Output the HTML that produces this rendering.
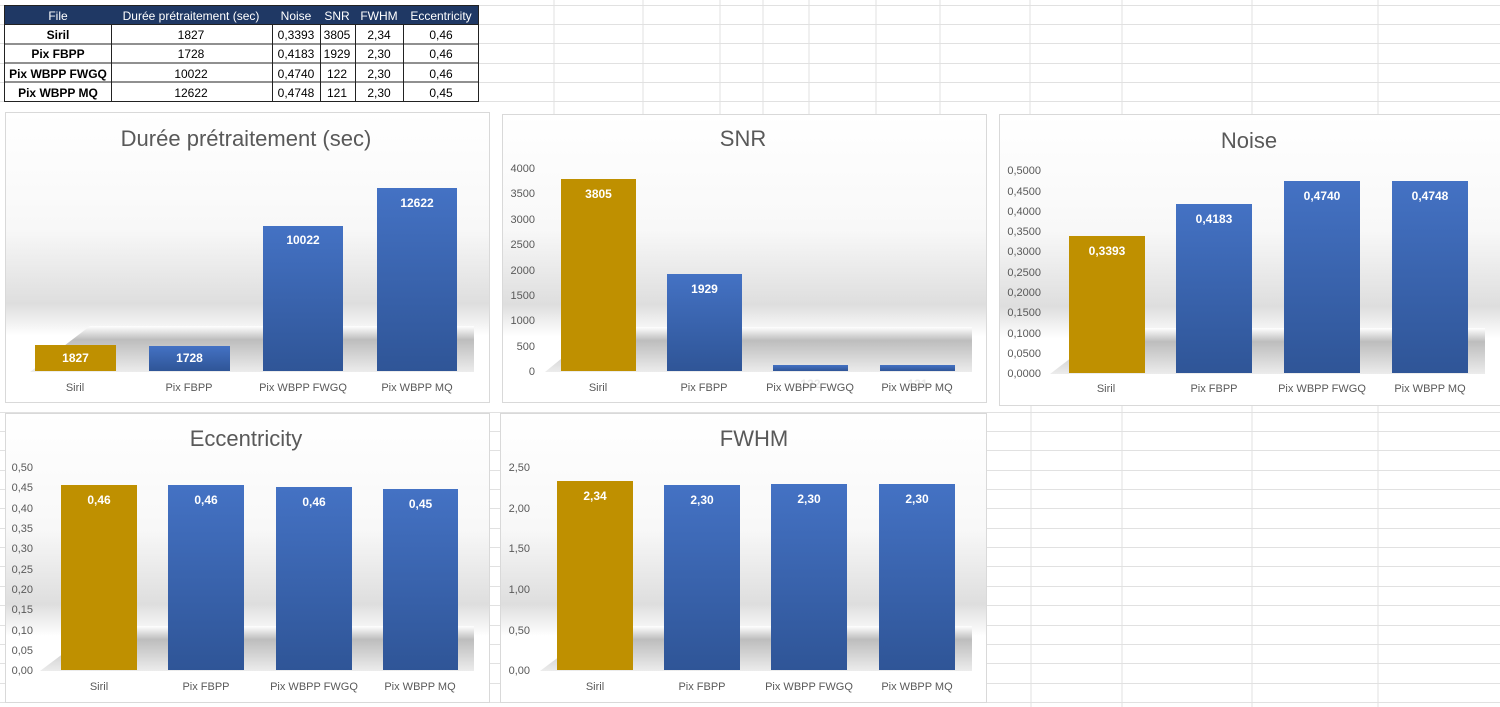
<!DOCTYPE html>
<html><head><meta charset="utf-8"><style>
html,body{margin:0;padding:0;background:#fff;}
svg{display:block;font-family:"Liberation Sans",sans-serif;}
</style></head><body>
<svg width="1500" height="707" viewBox="0 0 1500 707" xmlns="http://www.w3.org/2000/svg">
<defs>
<linearGradient id="blue" x1="0" y1="0" x2="0" y2="1"><stop offset="0" stop-color="#4472c4"/><stop offset="1" stop-color="#2f5597"/></linearGradient>
<linearGradient id="bg" x1="0" y1="0" x2="0" y2="1">
<stop offset="0" stop-color="#ffffff"/><stop offset="0.4" stop-color="#f8f8f8"/><stop offset="0.66" stop-color="#dedede"/><stop offset="0.73" stop-color="#f3f3f3"/><stop offset="0.77" stop-color="#ffffff"/><stop offset="1" stop-color="#ffffff"/></linearGradient>
<linearGradient id="floor" x1="0" y1="0" x2="0" y2="1"><stop offset="0" stop-color="#ffffff"/><stop offset="0.3" stop-color="#bdbdbd"/><stop offset="1" stop-color="#ececec"/></linearGradient>
</defs>
<g stroke="#e1e1e1" stroke-width="1">
<line x1="0" y1="5.5" x2="1500" y2="5.5"/><line x1="0" y1="24.5" x2="1500" y2="24.5"/><line x1="0" y1="43.5" x2="1500" y2="43.5"/><line x1="0" y1="63.5" x2="1500" y2="63.5"/><line x1="0" y1="82.5" x2="1500" y2="82.5"/><line x1="0" y1="101.5" x2="1500" y2="101.5"/>
<line x1="0" y1="412.5" x2="1500" y2="412.5"/><line x1="0" y1="431.5" x2="1500" y2="431.5"/><line x1="0" y1="450.5" x2="1500" y2="450.5"/><line x1="0" y1="470.5" x2="1500" y2="470.5"/><line x1="0" y1="489.5" x2="1500" y2="489.5"/><line x1="0" y1="508.5" x2="1500" y2="508.5"/><line x1="0" y1="528.5" x2="1500" y2="528.5"/><line x1="0" y1="547.5" x2="1500" y2="547.5"/><line x1="0" y1="566.5" x2="1500" y2="566.5"/><line x1="0" y1="586.5" x2="1500" y2="586.5"/><line x1="0" y1="605.5" x2="1500" y2="605.5"/><line x1="0" y1="625.5" x2="1500" y2="625.5"/><line x1="0" y1="644.5" x2="1500" y2="644.5"/><line x1="0" y1="663.5" x2="1500" y2="663.5"/><line x1="0" y1="683.5" x2="1500" y2="683.5"/><line x1="0" y1="702.5" x2="1500" y2="702.5"/>
<line x1="554" y1="0" x2="554" y2="115"/><line x1="643" y1="0" x2="643" y2="115"/><line x1="720" y1="0" x2="720" y2="115"/><line x1="763" y1="0" x2="763" y2="115"/><line x1="809" y1="0" x2="809" y2="115"/><line x1="876" y1="0" x2="876" y2="115"/><line x1="940" y1="0" x2="940" y2="115"/><line x1="1030" y1="0" x2="1030" y2="115"/><line x1="1122" y1="0" x2="1122" y2="115"/><line x1="1252" y1="0" x2="1252" y2="115"/><line x1="1378" y1="0" x2="1378" y2="115"/>
<line x1="1031" y1="405" x2="1031" y2="707"/><line x1="1122" y1="405" x2="1122" y2="707"/><line x1="1252" y1="405" x2="1252" y2="707"/><line x1="1378" y1="405" x2="1378" y2="707"/>
</g>
<rect x="4.5" y="5.5" width="474" height="19" fill="#1f3864"/>
<rect x="4.5" y="24.5" width="474" height="77" fill="#fff"/>
<g stroke="#222" stroke-width="1" fill="none">
<rect x="4.5" y="5.5" width="474" height="96"/>
<line x1="4.5" y1="24.5" x2="478.5" y2="24.5"/><line x1="4.5" y1="44" x2="478.5" y2="44"/><line x1="4.5" y1="63" x2="478.5" y2="63"/><line x1="4.5" y1="82" x2="478.5" y2="82"/>
<line x1="111.5" y1="24.5" x2="111.5" y2="101.5"/><line x1="272.5" y1="24.5" x2="272.5" y2="101.5"/><line x1="320.5" y1="24.5" x2="320.5" y2="101.5"/><line x1="355.5" y1="24.5" x2="355.5" y2="101.5"/><line x1="403.5" y1="24.5" x2="403.5" y2="101.5"/>
</g>
<g font-size="12" text-anchor="middle" fill="#fff">
<text x="58" y="20">File</text><text x="191" y="20">Durée prétraitement (sec)</text><text x="296" y="20">Noise</text><text x="337" y="20">SNR</text><text x="379" y="20">FWHM</text><text x="441" y="20">Eccentricity</text>
</g>
<g font-size="12" text-anchor="middle" fill="#000">
<text x="58" y="39" font-weight="bold">Siril</text><text x="191" y="39">1827</text><text x="296" y="39">0,3393</text><text x="337" y="39">3805</text><text x="379" y="39">2,34</text><text x="441" y="39">0,46</text>
<text x="58" y="58" font-weight="bold">Pix FBPP</text><text x="191" y="58">1728</text><text x="296" y="58">0,4183</text><text x="337" y="58">1929</text><text x="379" y="58">2,30</text><text x="441" y="58">0,46</text>
<text x="58" y="78" font-weight="bold">Pix WBPP FWGQ</text><text x="191" y="78">10022</text><text x="296" y="78">0,4740</text><text x="337" y="78">122</text><text x="379" y="78">2,30</text><text x="441" y="78">0,46</text>
<text x="58" y="97" font-weight="bold">Pix WBPP MQ</text><text x="191" y="97">12622</text><text x="296" y="97">0,4748</text><text x="337" y="97">121</text><text x="379" y="97">2,30</text><text x="441" y="97">0,45</text>
</g>

<rect x="5.5" y="112.5" width="484" height="290" fill="url(#bg)" stroke="#d9d9d9"/>
<polygon points="90,326 474,326 474,372 30,372" fill="url(#floor)"/>
<text x="246" y="146" font-size="22" fill="#595959" text-anchor="middle">Durée prétraitement (sec)</text>
<rect x="35" y="345" width="81" height="26" fill="#bf9000"/>
<rect x="149" y="346" width="81" height="25" fill="url(#blue)"/>
<rect x="263" y="226" width="80" height="145" fill="url(#blue)"/>
<rect x="377" y="188" width="80" height="183" fill="url(#blue)"/>
<g font-size="12" font-weight="bold" fill="#fff" text-anchor="middle">
<text x="75.5" y="362">1827</text><text x="189.5" y="362">1728</text><text x="303" y="244">10022</text><text x="417" y="207">12622</text></g>
<g font-size="11" fill="#595959" text-anchor="middle"><text x="75" y="391">Siril</text><text x="189" y="391">Pix FBPP</text><text x="303" y="391">Pix WBPP FWGQ</text><text x="417" y="391">Pix WBPP MQ</text></g>

<rect x="502.5" y="114.5" width="484" height="288" fill="url(#bg)" stroke="#d9d9d9"/>
<polygon points="600,327 972,327 972,372 545,372" fill="url(#floor)"/>
<text x="743" y="146" font-size="22" fill="#595959" text-anchor="middle">SNR</text>
<g font-size="11" fill="#595959" text-anchor="end">
<text x="535" y="172">4000</text><text x="535" y="197">3500</text><text x="535" y="223">3000</text><text x="535" y="248">2500</text><text x="535" y="274">2000</text><text x="535" y="299">1500</text><text x="535" y="324">1000</text><text x="535" y="350">500</text><text x="535" y="375">0</text></g>
<rect x="561" y="179" width="75" height="192" fill="#bf9000"/>
<rect x="667" y="274" width="75" height="97" fill="url(#blue)"/>
<rect x="773" y="365" width="75" height="6" fill="url(#blue)"/>
<rect x="880" y="365" width="75" height="6" fill="url(#blue)"/>
<g font-size="12" font-weight="bold" fill="#fff" text-anchor="middle">
<text x="598.5" y="198">3805</text><text x="704.5" y="293">1929</text><text x="810.5" y="388" fill="#e8e8e8">122</text><text x="917.5" y="388" fill="#e8e8e8">121</text></g>
<g font-size="11" fill="#595959" text-anchor="middle"><text x="598" y="391">Siril</text><text x="704" y="391">Pix FBPP</text><text x="810" y="391">Pix WBPP FWGQ</text><text x="917" y="391">Pix WBPP MQ</text></g>

<rect x="999.5" y="114.5" width="501" height="291" fill="url(#bg)" stroke="#d9d9d9"/>
<polygon points="1110,328 1485,328 1485,374 1050,374" fill="url(#floor)"/>
<text x="1249" y="148" font-size="22" fill="#595959" text-anchor="middle">Noise</text>
<g font-size="11" fill="#595959" text-anchor="end">
<text x="1041" y="174">0,5000</text><text x="1041" y="195">0,4500</text><text x="1041" y="215">0,4000</text><text x="1041" y="235">0,3500</text><text x="1041" y="255">0,3000</text><text x="1041" y="276">0,2500</text><text x="1041" y="296">0,2000</text><text x="1041" y="316">0,1500</text><text x="1041" y="337">0,1000</text><text x="1041" y="357">0,0500</text><text x="1041" y="377">0,0000</text></g>
<rect x="1069" y="236" width="76" height="137" fill="#bf9000"/>
<rect x="1176" y="204" width="76" height="169" fill="url(#blue)"/>
<rect x="1284" y="181" width="76" height="192" fill="url(#blue)"/>
<rect x="1392" y="181" width="76" height="192" fill="url(#blue)"/>
<g font-size="12" font-weight="bold" fill="#fff" text-anchor="middle">
<text x="1107" y="255">0,3393</text><text x="1214" y="223">0,4183</text><text x="1322" y="200">0,4740</text><text x="1430" y="200">0,4748</text></g>
<g font-size="11" fill="#595959" text-anchor="middle"><text x="1106" y="392">Siril</text><text x="1214" y="392">Pix FBPP</text><text x="1322" y="392">Pix WBPP FWGQ</text><text x="1430" y="392">Pix WBPP MQ</text></g>

<rect x="5.5" y="413.5" width="484" height="289" fill="url(#bg)" stroke="#d9d9d9"/>
<polygon points="100,626 474,626 474,671 40,671" fill="url(#floor)"/>
<text x="246" y="446" font-size="22" fill="#595959" text-anchor="middle">Eccentricity</text>
<g font-size="11" fill="#595959" text-anchor="end">
<text x="33" y="471">0,50</text><text x="33" y="491">0,45</text><text x="33" y="512">0,40</text><text x="33" y="532">0,35</text><text x="33" y="552">0,30</text><text x="33" y="573">0,25</text><text x="33" y="593">0,20</text><text x="33" y="613">0,15</text><text x="33" y="634">0,10</text><text x="33" y="654">0,05</text><text x="33" y="674">0,00</text></g>
<rect x="61" y="485" width="76" height="185" fill="#bf9000"/>
<rect x="168" y="485" width="76" height="185" fill="url(#blue)"/>
<rect x="276" y="487" width="76" height="183" fill="url(#blue)"/>
<rect x="383" y="489" width="75" height="181" fill="url(#blue)"/>
<g font-size="12" font-weight="bold" fill="#fff" text-anchor="middle">
<text x="99" y="504">0,46</text><text x="206" y="504">0,46</text><text x="314" y="506">0,46</text><text x="420.5" y="508">0,45</text></g>
<g font-size="11" fill="#595959" text-anchor="middle"><text x="99" y="690">Siril</text><text x="206" y="690">Pix FBPP</text><text x="314" y="690">Pix WBPP FWGQ</text><text x="420" y="690">Pix WBPP MQ</text></g>

<rect x="500.5" y="413.5" width="486" height="289" fill="url(#bg)" stroke="#d9d9d9"/>
<polygon points="600,626 972,626 972,671 540,671" fill="url(#floor)"/>
<text x="754" y="446" font-size="22" fill="#595959" text-anchor="middle">FWHM</text>
<g font-size="11" fill="#595959" text-anchor="end">
<text x="530" y="471">2,50</text><text x="530" y="512">2,00</text><text x="530" y="552">1,50</text><text x="530" y="593">1,00</text><text x="530" y="634">0,50</text><text x="530" y="674">0,00</text></g>
<rect x="557" y="481" width="76" height="189" fill="#bf9000"/>
<rect x="664" y="485" width="76" height="185" fill="url(#blue)"/>
<rect x="771" y="484" width="76" height="186" fill="url(#blue)"/>
<rect x="879" y="484" width="76" height="186" fill="url(#blue)"/>
<g font-size="12" font-weight="bold" fill="#fff" text-anchor="middle">
<text x="595" y="500">2,34</text><text x="702" y="504">2,30</text><text x="809" y="503">2,30</text><text x="917" y="503">2,30</text></g>
<g font-size="11" fill="#595959" text-anchor="middle"><text x="595" y="690">Siril</text><text x="702" y="690">Pix FBPP</text><text x="809" y="690">Pix WBPP FWGQ</text><text x="917" y="690">Pix WBPP MQ</text></g>
</svg>
</body></html>
